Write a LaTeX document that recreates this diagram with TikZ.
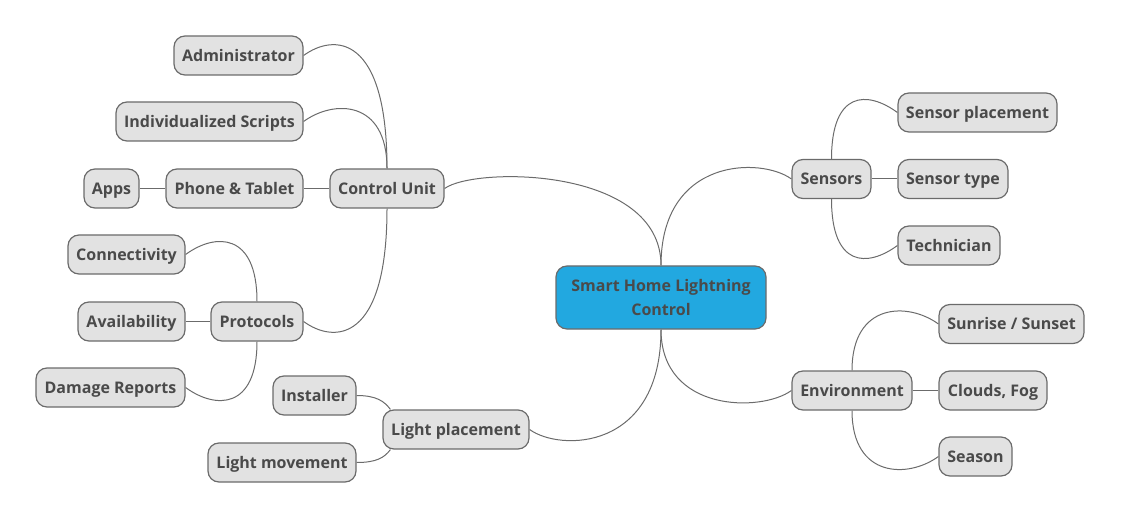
\documentclass[tikz,border=0pt]{standalone}
\usepackage{fontspec}
\setmainfont{Open Sans}
\usetikzlibrary{calc,backgrounds}
\definecolor{boxfill}{HTML}{E2E2E2}
\definecolor{boxline}{HTML}{6B6B6B}
\definecolor{txt}{HTML}{4A4A4A}
\definecolor{rootfill}{HTML}{22A8E0}
\begin{document}
\begin{tikzpicture}[x=1pt,y=1pt,
  box/.style={draw=boxline, line width=1.2pt, fill=boxfill, rounded corners=11pt,
    text=txt, font=\bfseries\fontsize{16}{19}\selectfont, minimum height=39pt,
    text height=11.4pt, text depth=0pt,
    inner sep=0pt, anchor=center, align=center},
  rootbox/.style={box, fill=rootfill, minimum height=63pt, text height={}, text depth={},
    font=\bfseries\fontsize{16}{24}\selectfont},
  link/.style={draw=boxline, line width=1pt}]
\useasboundingbox (0,0) rectangle (1121,520);
% nodes
\node[rootbox, minimum width=210pt] (root) at (661,222.5) {Smart Home Lightning\\Control};
\node[box, minimum width=114pt] (cu) at (387,331.5) {Control Unit};
\node[box, minimum width=129pt] (admin) at (238.5,464.5) {Administrator};
\node[box, minimum width=187pt] (scripts) at (209.5,398.5) {Individualized Scripts};
\node[box, minimum width=137pt] (phone) at (234.5,331.5) {Phone \& Tablet};
\node[box, minimum width=55pt] (apps) at (111.5,331.5) {Apps};
\node[box, minimum width=92pt] (proto) at (257,198.5) {Protocols};
\node[box, minimum width=117pt] (conn) at (126.5,265.5) {Connectivity};
\node[box, minimum width=107pt] (avail) at (131.5,198.5) {Availability};
\node[box, minimum width=149pt] (damage) at (110.5,132.5) {Damage Reports};
\node[box, minimum width=146pt] (lp) at (456,90.5) {Light placement};
\node[box, minimum width=83pt] (inst) at (314.5,124.5) {Installer};
\node[box, minimum width=148pt] (lm) at (282,57.5) {Light movement};
\node[box, minimum width=79pt] (sens) at (831.5,341) {Sensors};
\node[box, minimum width=159pt] (sp) at (977.5,407.5) {Sensor placement};
\node[box, minimum width=110pt] (st) at (953,341) {Sensor type};
\node[box, minimum width=102pt] (tech) at (949,274.5) {Technician};
\node[box, minimum width=120pt] (env) at (852,129.5) {Environment};
\node[box, minimum width=145pt] (sun) at (1011.5,196) {Sunrise / Sunset};
\node[box, minimum width=108pt] (cloud) at (993,129.5) {Clouds, Fog};
\node[box, minimum width=73pt] (season) at (975.5,63.5) {Season};
\coordinate (lptop) at ($(lp.north west)+(8,0)$);
\coordinate (lpbot) at ($(lp.south west)+(8,0)$);
% connectors
\begin{pgfonlayer}{background}
\draw[link] (root.north) .. controls ($(root.north |- cu.east)+(0,22)$) and ($(cu.east)+(30,22)$) .. (cu.east);
\draw[link] (root.north) .. controls ($(root.north |- sens.west)+(0,22)$) and ($(sens.west)+(-30,22)$) .. (sens.west);
\draw[link] (root.south) .. controls ($(root.south |- lp.east)+(0,-22)$) and ($(lp.east)+(30,-22)$) .. (lp.east);
\draw[link] (root.south) .. controls ($(root.south |- env.west)+(0,-22)$) and ($(env.west)+(-30,-22)$) .. (env.west);
\draw[link] (cu.north) .. controls ($(cu.north |- admin.east)+(0,22)$) and ($(admin.east)+(30,22)$) .. (admin.east);
\draw[link] (cu.north) .. controls ($(cu.north |- scripts.east)+(0,22)$) and ($(scripts.east)+(30,22)$) .. (scripts.east);
\draw[link] (cu.south) .. controls ($(cu.south |- proto.east)+(0,-22)$) and ($(proto.east)+(30,-22)$) .. (proto.east);
\draw[link] (cu.west) -- (phone.east);
\draw[link] (phone.west) -- (apps.east);
\draw[link] (proto.north) .. controls ($(proto.north |- conn.east)+(0,22)$) and ($(conn.east)+(30,22)$) .. (conn.east);
\draw[link] (proto.south) .. controls ($(proto.south |- damage.east)+(0,-22)$) and ($(damage.east)+(30,-22)$) .. (damage.east);
\draw[link] (proto.west) -- (avail.east);
\draw[link] (sens.north) .. controls ($(sens.north |- sp.west)+(0,22)$) and ($(sp.west)+(-30,22)$) .. (sp.west);
\draw[link] (sens.south) .. controls ($(sens.south |- tech.west)+(0,-22)$) and ($(tech.west)+(-30,-22)$) .. (tech.west);
\draw[link] (sens.east) -- (st.west);
\draw[link] (env.north) .. controls ($(env.north |- sun.west)+(0,22)$) and ($(sun.west)+(-30,22)$) .. (sun.west);
\draw[link] (env.south) .. controls ($(env.south |- season.west)+(0,-22)$) and ($(season.west)+(-30,-22)$) .. (season.west);
\draw[link] (env.east) -- (cloud.west);
\draw[link] (inst.east) .. controls +(20,0) and +(-6,8) .. (lptop);
\draw[link] (lm.east) .. controls +(20,0) and +(-6,-8) .. (lpbot);
\end{pgfonlayer}
\end{tikzpicture}
\end{document}
